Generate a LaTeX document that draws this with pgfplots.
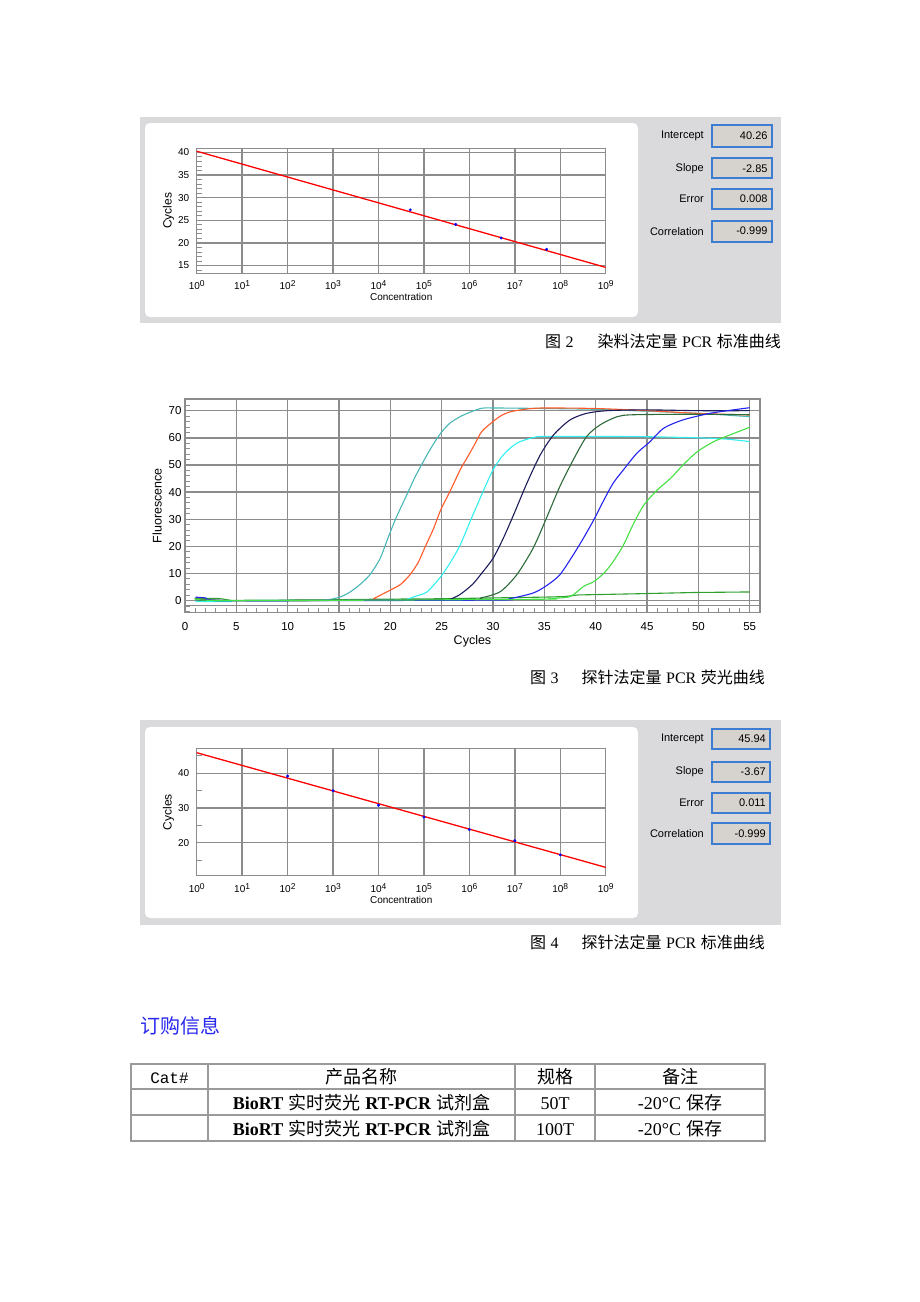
\documentclass[border=0pt]{standalone}
\usepackage{pgfplots}
\pgfplotsset{compat=1.18}
\usepackage{fontspec}
\setmainfont{Liberation Sans}
\newfontfamily\serif{Liberation Serif}
\newfontfamily\mono{Liberation Mono}
\newfontfamily\cjk{Noto Sans CJK SC}

\definecolor{panelgray}{HTML}{DADADD}
\definecolor{boxgray}{HTML}{D6D3CE}
\definecolor{boxblue}{HTML}{3C7DD2}
\definecolor{gridgray}{HTML}{8C8C8C}
\definecolor{tablegray}{HTML}{9A9A9A}
\definecolor{titleblue}{HTML}{2828F0}
\definecolor{cteal}{HTML}{48B8B8}
\definecolor{corange}{HTML}{FF5A28}
\definecolor{ccyan}{HTML}{30F0F0}
\definecolor{cnavy}{HTML}{1C1C5C}
\definecolor{cdgreen}{HTML}{2E6B3A}
\definecolor{cblue}{HTML}{2424F0}
\definecolor{clgreen}{HTML}{44E044}
\definecolor{cfgreen}{HTML}{30A030}

\newcommand{\tp}[1]{10\raisebox{0.55ex}{\fontsize{8.5}{9}\selectfont #1}}

\pgfplotsset{
  instr/.style={
    scale only axis,
    axis line style={gridgray, line width=1.4pt},
    grid=major,
    major grid style={gridgray, line width=1.4pt},
    tick style={gridgray, line width=0.9pt},
    tick align=inside,
    tick pos=left,
    major tick length=6pt,
    minor tick length=5pt,
    ticklabel style={font=\fontsize{10}{12}\selectfont},
    label style={font=\fontsize{10.5}{12}\selectfont},
    /pgf/number format/assume math mode=true,
  },
  concax/.style={
    xmin=1, xmax=1e9,
    xtick={1,10,100,1000,10000,100000,1000000,10000000,100000000,1000000000},
    xticklabels={\tp0,\tp1,\tp2,\tp3,\tp4,\tp5,\tp6,\tp7,\tp8,\tp9},
    xtick style={draw=none},
    xticklabel shift=4pt,
    yticklabel shift=4pt,
    xlabel={Concentration}, ylabel={Cycles},
    xlabel style={yshift=3pt, font=\fontsize{10}{12}\selectfont},
    ylabel style={font=\fontsize{12}{14}\selectfont, yshift=-3pt},
  },
  qcurve/.style={line width=1.1pt, smooth, tension=0.45},
}

\newcommand{\widget}[5]{% y top, y bottom, label, value, x right
  \pgfmathsetmacro{\yc}{(#1+#2)/2}
  \node[anchor=east, font=\fontsize{11}{13}\selectfont, inner sep=0pt] at (704pt,-\yc pt) {#3};
  \draw[fill=boxgray, draw=boxblue, line width=1.8pt] (712pt,-#1pt) rectangle (#5pt,-#2pt);
  \node[anchor=east, font=\fontsize{11}{13}\selectfont, inner sep=0pt] at (#5pt-4pt,-\yc pt) {#4};
}

\begin{document}
\begin{tikzpicture}
\path[use as bounding box, fill=white] (0pt,0pt) rectangle (920pt,-1302pt);

% ---------- Figure 2 panel ----------
\fill[panelgray] (140pt,-117pt) rectangle (781pt,-323pt);
\fill[white, rounded corners=5pt] (145pt,-123pt) rectangle (638pt,-317pt);
\widget{125}{146.7}{Intercept}{40.26}{771.7}
\widget{158.3}{178.3}{Slope}{-2.85}{771.7}
\widget{189}{209.3}{Error}{0.008}{771.7}
\widget{220.7}{241.7}{Correlation}{-0.999}{771.7}

\begin{axis}[xmode=log, instr, concax, at={(196.7pt,-148.3pt)}, anchor=north west,
  width=409pt, height=125pt,
  ymin=13.3, ymax=40.9, ytick={15,20,...,40}, minor ytick={14,...,40}]
\addplot[red, line width=1.3pt] coordinates {(1,40.26) (1e9,14.61)};
\addplot[only marks, mark=*, mark size=1.3pt, blue] coordinates {(5e4,27.3) (5e5,24.1) (5e6,21.1) (5e7,18.6)};
\end{axis}

\node[anchor=base west, inner sep=0pt, font=\fontsize{16}{18}\selectfont] at (545pt,-347pt) {{\cjk 图} {\serif 2}};
\node[anchor=base east, inner sep=0pt, font=\fontsize{16}{18}\selectfont] at (781pt,-347pt) {{\cjk 染料法定量} {\serif PCR} {\cjk 标准曲线}};

% ---------- Figure 3 ----------
\begin{axis}[instr, at={(185pt,-399pt)}, anchor=north west,
  width=575pt, height=213.3pt,
  xmin=0, xmax=56, ymin=-4.3, ymax=74.3,
  xtick={0,5,...,55}, ytick={0,10,...,70},
  minor xtick={0,...,56}, minor ytick={-4,-2,...,74},
  minor tick length=4.5pt,
  ticklabel style={font=\fontsize{11.5}{13}\selectfont},
  xticklabel shift=7pt,
  xlabel={Cycles}, ylabel={Fluorescence},
  label style={font=\fontsize{12.5}{14}\selectfont},
  xlabel style={yshift=2pt}]
\draw[gridgray, line width=1pt] (axis cs:0,-1.9) -- (axis cs:56,-1.9);
% flat green
\addplot[cfgreen, line width=1.1pt] coordinates {(1,0.8)(3.3,0.8)(4.5,0.1)(14,0.3)(18,0.5)(25,0.7)(30,1)(35,1.3)(37,1.5)(38.3,2.1)(43.6,2.5)(49.6,3)(55,3.2)};
% teal
\addplot[cteal, qcurve] coordinates {(1,0.5)(2,0.3)(3,0.2)(4.5,0)(10,0)(13.5,0.2)(15,1.2)(16,3)(17,5.8)(18,9.5)(19,15.5)(19.7,22.4)(20.5,30)(21.6,39)(22.4,45.5)(23.2,51.2)(24,56.5)(24.9,61.7)(25.8,65.4)(26.8,67.8)(27.8,69.5)(28.9,70.9)(30,71)(35,70.8)(40,70.5)(45,69.8)(50,69)(55,67.8)};
% orange
\addplot[corange, qcurve] coordinates {(1,0.6)(4.5,0)(18,0.2)(18.4,0.8)(20,3.9)(21,6)(21.9,9.5)(22.7,14)(23.4,19.9)(24.2,26.5)(24.9,33.4)(25.8,40.2)(26.8,48.2)(27.5,52.8)(28.2,57.5)(28.9,62.3)(30,66)(30.8,68.2)(31.7,69.6)(33.3,70.6)(35,71)(40,70.8)(45,70)(50,69)(55,68.4)};
% cyan
\addplot[ccyan, qcurve] coordinates {(1,-0.3)(4.5,-0.3)(5,0)(21,0.2)(21.6,0.5)(22.6,1.8)(23.6,3.3)(24.9,8.8)(25.8,13.8)(26.8,20.5)(27.9,30.4)(29.1,40.8)(30,48.2)(31,53.7)(32.3,58)(33.9,60.1)(35,60.5)(40,60.5)(45,60.4)(50,60)(52.8,59.5)(55,58.6)};
% navy
\addplot[cnavy, qcurve] coordinates {(1,0.5)(4.5,0)(25,0.3)(25.8,0.5)(26.8,2.3)(28,6)(28.9,10.1)(30,15.6)(31,23)(32,31.6)(33.3,43.3)(34.6,53.7)(35.9,61.1)(37.5,66.6)(39.1,69)(41.1,70)(45,70.3)(50,70)(55,70)};
% dark green
\addplot[cdgreen, qcurve] coordinates {(1,0.5)(4.5,0)(27,0.3)(28.8,1)(30.7,3.3)(32.3,9.5)(33.9,19.3)(35.2,30.4)(36.5,42)(37.8,51.8)(39.1,60.4)(40.4,64.7)(42.1,67.8)(43.7,68.5)(50,68.7)(55,68.5)};
% blue
\addplot[cblue, qcurve] coordinates {(1,1.3)(2,1)(4.5,0)(30,0.2)(31.6,0.7)(33.9,2.8)(35.2,5.5)(36.5,9.5)(37.8,16.8)(38.8,23)(39.8,29.7)(40.8,37.1)(41.7,43.3)(42.7,48.2)(44,54.3)(45.3,58.6)(46.6,63.5)(48.5,66.6)(51.1,69)(53.4,70.3)(55,71.1)};
% light green
\addplot[clgreen, qcurve] coordinates {(1,0.8)(4.5,0)(34,0.5)(35.5,0.8)(37.5,1.5)(38.8,5.2)(39.8,7)(40.8,10.1)(41.7,14.4)(42.7,20.5)(43.7,28.5)(44.7,35.3)(46,40.8)(47.3,45.1)(48.5,50)(49.9,54.9)(51.5,58.6)(53.1,61.1)(55,63.9)};
\end{axis}

\node[anchor=base west, inner sep=0pt, font=\fontsize{16}{18}\selectfont] at (530pt,-683pt) {{\cjk 图} {\serif 3}};
\node[anchor=base east, inner sep=0pt, font=\fontsize{16}{18}\selectfont] at (765pt,-683pt) {{\cjk 探针法定量} {\serif PCR} {\cjk 荧光曲线}};

% ---------- Figure 4 panel ----------
\fill[panelgray] (140pt,-720pt) rectangle (781pt,-925pt);
\fill[white, rounded corners=5pt] (145pt,-727pt) rectangle (638pt,-918pt);
\widget{729}{749.3}{Intercept}{45.94}{770}
\widget{761.7}{781.7}{Slope}{-3.67}{770}
\widget{792.7}{812.7}{Error}{0.011}{770}
\widget{823.3}{844}{Correlation}{-0.999}{770}

\begin{axis}[xmode=log, instr, concax, at={(196.7pt,-748.3pt)}, anchor=north west,
  width=409pt, height=127.4pt,
  ymin=10.5, ymax=47.2, ytick={20,30,40}, minor ytick={15,25,35,45}]
\addplot[red, line width=1.3pt] coordinates {(1,45.94) (1e9,12.91)};
\addplot[only marks, mark=*, mark size=1.3pt, blue] coordinates {(1e2,39.2) (1e3,35.0) (1e4,30.8) (1e5,27.4) (1e6,23.8) (1e7,20.6) (1e8,16.5)};
\end{axis}

\node[anchor=base west, inner sep=0pt, font=\fontsize{16}{18}\selectfont] at (530pt,-948pt) {{\cjk 图} {\serif 4}};
\node[anchor=base east, inner sep=0pt, font=\fontsize{16}{18}\selectfont] at (765pt,-948pt) {{\cjk 探针法定量} {\serif PCR} {\cjk 标准曲线}};

% ---------- Ordering info ----------
\node[anchor=base west, inner sep=0pt, text=titleblue, font=\fontsize{20}{22}\selectfont\cjk] at (140pt,-1033pt) {订购信息};

\draw[tablegray, line width=1.5pt] (131pt,-1064pt) rectangle (765pt,-1141pt);
\draw[tablegray, line width=1.5pt] (131pt,-1089pt) -- (765pt,-1089pt);
\draw[tablegray, line width=1.5pt] (131pt,-1115pt) -- (765pt,-1115pt);
\foreach \xx in {208,515,595} \draw[tablegray, line width=1.5pt] (\xx pt,-1064pt) -- (\xx pt,-1141pt);

\node[anchor=base, inner sep=0pt, font=\fontsize{16}{18}\selectfont\mono] at (169.5pt,-1083pt) {Cat\#};
\node[anchor=base, inner sep=0pt, font=\fontsize{18}{20}\selectfont\cjk] at (361.5pt,-1083pt) {产品名称};
\node[anchor=base, inner sep=0pt, font=\fontsize{18}{20}\selectfont\cjk] at (555pt,-1083pt) {规格};
\node[anchor=base, inner sep=0pt, font=\fontsize{18}{20}\selectfont\cjk] at (680pt,-1083pt) {备注};

\foreach \yy/\ss in {1109/50T,1135/100T}{
  \node[anchor=base, inner sep=0pt, font=\fontsize{18}{20}\selectfont] at (361.5pt,-\yy pt) {{\serif\bfseries BioRT} {\cjk 实时荧光} {\serif\bfseries RT-PCR} {\cjk 试剂盒}};
  \node[anchor=base, inner sep=0pt, font=\fontsize{18}{20}\selectfont\serif] at (555pt,-\yy pt) {\ss};
  \node[anchor=base, inner sep=0pt, font=\fontsize{18}{20}\selectfont] at (680pt,-\yy pt) {{\serif -20°C} {\cjk 保存}};
}
\end{tikzpicture}
\end{document}
